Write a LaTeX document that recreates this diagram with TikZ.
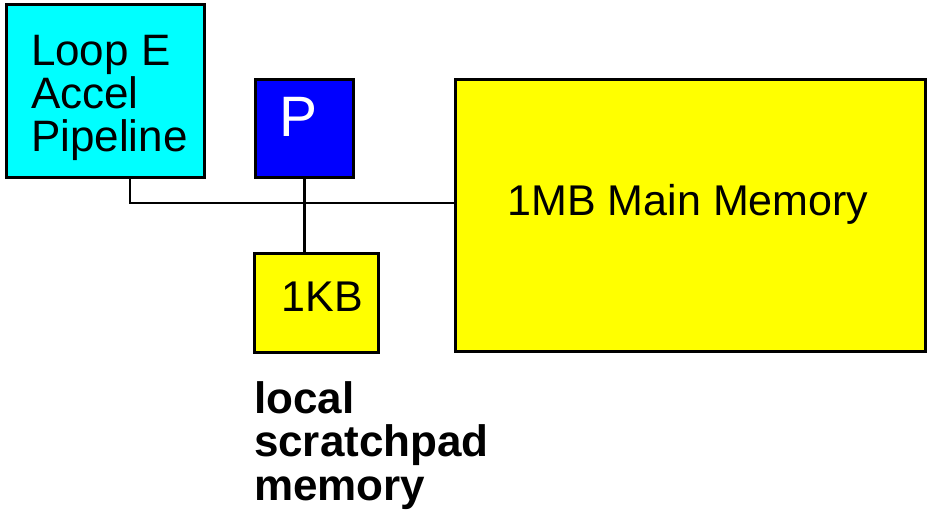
\documentclass[tikz,border=0pt]{standalone}
\usepackage{fontspec}
\setmainfont{Liberation Sans}
\begin{document}
\begin{tikzpicture}[x=1pt,y=-1pt,
  blockbox/.style={draw=black,line width=3pt,inner sep=0pt,outer sep=0pt,rectangle},
  wire/.style={draw=black,line width=2.8pt},
  lbl/.style={inner sep=0pt,outer sep=0pt,font=\fontsize{44}{43}\selectfont},
  boldlbl/.style={inner sep=0pt,outer sep=0pt,font=\fontsize{44}{43.5}\selectfont\bfseries}]
\useasboundingbox (0,0) rectangle (929,521);
\node[blockbox,fill={rgb,255:red,0;green,255;blue,255},minimum width=198pt,minimum height=173pt] (accel) at (105.5,91) {};
\node[blockbox,fill={rgb,255:red,0;green,0;blue,255},minimum width=98pt,minimum height=98pt] (proc) at (304.5,128.5) {};
\node[blockbox,fill={rgb,255:red,255;green,255;blue,0},minimum width=124pt,minimum height=99pt] (scratch) at (316.5,303) {};
\node[blockbox,fill={rgb,255:red,255;green,255;blue,0},minimum width=470pt,minimum height=272pt] (mainmem) at (690.5,215.5) {};
\node[lbl,anchor=base west,align=left] (accellbl) at (31,152) {Loop E\\Accel\\Pipeline};
\node[lbl,anchor=base,text=white,font=\fontsize{57}{57}\selectfont] (proclbl) at (298.5,137) {P};
\node[lbl,anchor=base west,font=\fontsize{43}{43}\selectfont] (scratchlbl) at (281.5,312) {1KB};
\node[lbl,anchor=base,font=\fontsize{43}{43}\selectfont] (mainlbl) at (688,216) {1MB Main Memory};
\node[boldlbl,anchor=base west,align=left] (note) at (254,500) {local\\scratchpad\\memory};
\coordinate (bend) at (130,203);
\draw[wire] (accel.south -| bend) -- (bend) -- (mainmem.west |- bend);
\draw[wire] (proc.south) -- (proc.south |- scratch.north);
\end{tikzpicture}
\end{document}
